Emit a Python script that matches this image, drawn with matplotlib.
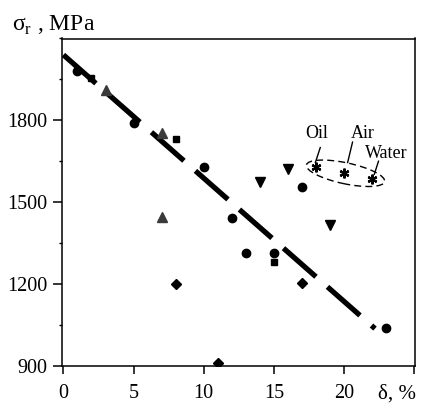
import matplotlib
matplotlib.use('Agg')
import matplotlib.pyplot as plt
from matplotlib.patches import Ellipse
from matplotlib.transforms import ScaledTranslation
from matplotlib.ticker import MultipleLocator

plt.rcParams['font.family'] = 'Liberation Serif'
plt.rcParams['mathtext.fontset'] = 'custom'
plt.rcParams['mathtext.rm'] = 'Liberation Serif'

# data (delta %, sigma_r MPa)
circle_x = [1, 5, 10, 12, 13, 15, 17, 23]
circle_y = [1980, 1790, 1630, 1440, 1315, 1315, 1555, 1040]
square_x = [2, 8, 15]
square_y = [1955, 1730, 1280]
diamond_x = [8, 11, 17]
diamond_y = [1200, 910, 1205]
tri_up_x = [3, 7, 7]
tri_up_y = [1910, 1755, 1445]
tri_down_x = [14, 16, 19]
tri_down_y = [1575, 1620, 1415]
star_x = [18, 20, 22]
star_y = [1630, 1608, 1585]
star_labels = ['Oil', 'Air', 'Water']

# trend line end points
fit_x = [0, 22.2]
fit_y = [2040, 1036]

fig = plt.figure(figsize=(4.27, 4.03), dpi=100)
ax = fig.add_axes([62 / 427, 1 - 365.7 / 403, 353 / 427, 327.2 / 403])

# dashed trend line
line, = ax.plot(fit_x, fit_y, color='black', lw=3.8, solid_capstyle='butt')
line.set_dashes((8.2, 2.9))
line.set_dash_capstyle('butt')

ax.plot(circle_x, circle_y, 'o', color='black', ms=6, zorder=3)
ax.plot(square_x, square_y, 's', color='black', ms=5, zorder=3)
ax.plot(diamond_x, diamond_y, 'D', color='black', ms=5, zorder=3)
ax.plot(tri_up_x, tri_up_y, '^', color='#3a3a3a', ms=6.5, zorder=3)
ax.plot(tri_down_x, tri_down_y, 'v', color='black', ms=6.5, zorder=3)
ax.plot(star_x, star_y, marker=(6, 2, 0), ls='none', color='black',
        ms=7, mew=1.6, zorder=3)

# dashed ellipse around the quenching media points
cx = sum(star_x) / len(star_x) + 0.1
cy = sum(star_y) / len(star_y) - 2
ell = Ellipse((0, 0), 0.80, 0.21, angle=-12, fill=False, ls=(0, (5, 3)),
              lw=1.0, color='black',
              transform=fig.dpi_scale_trans + ScaledTranslation(cx, cy, ax.transData))
ax.add_patch(ell)

# labels with leader lines
label_pos = [(18.05, 1752), (21.3, 1752), (23.0, 1680)]
leader = [((18.3, 1700), (17.95, 1645)),
          ((20.6, 1720), (20.25, 1645)),
          ((22.45, 1650), (22.15, 1602))]
for lab, (tx, ty), (p0, p1) in zip(star_labels, label_pos, leader):
    ax.text(tx, ty, lab, ha='center', va='center', fontsize=13)
    ax.plot([p0[0], p1[0]], [p0[1], p1[1]], color='black', lw=1.0)

ax.set_xlim(-0.1, 25.05)
ax.set_ylim(900, 2100)
ax.set_xticks([0, 5, 10, 15, 20, 25])
ax.set_xticklabels(['0', '5', '10', '15', '20', ''])
ax.set_yticks([900, 1200, 1500, 1800])
ax.yaxis.set_minor_locator(MultipleLocator(150))
ax.tick_params(axis='both', which='major', direction='out', labelsize=14.5,
               width=1.1, color='black')
ax.tick_params(axis='y', which='major', length=6.5, pad=4)
ax.tick_params(axis='x', which='major', length=6, pad=7.5)
ax.tick_params(axis='y', which='minor', length=2.5, width=1.0)
for sp in ax.spines.values():
    sp.set_linewidth(1.1)

fig.text(12 / 427, 1 - 30.5 / 403, r'σ$_\mathrm{r}$ , MPa', fontsize=17,
         ha='left', va='baseline')
fig.text(378 / 427, 1 - 399 / 403, 'δ, %', fontsize=15, ha='left', va='baseline')

fig.savefig('out.png', dpi=100)
